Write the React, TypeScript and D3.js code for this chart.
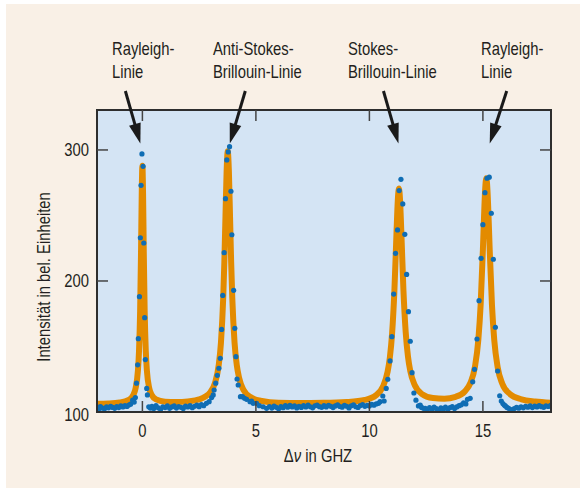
import React, { useRef, useEffect } from "react";
import * as d3 from "d3";

type Pt = [number, number];

const xTicks = [0, 5, 10, 15];
const yTicks = [100, 200, 300];

// orange fit curve: [Δν in GHz, intensity]
const fitCurve: Pt[] = [
  [-2, 106.3], [-1.5, 106.5], [-1, 107.2], [-0.6, 109.2], [-0.4, 113], [-0.3, 118.1],
  [-0.2, 131.1], [-0.15, 146.3], [-0.1, 177], [-0.06, 222.5], [-0.03, 265.6], [0, 288],
  [0.03, 265.6], [0.06, 222.5], [0.1, 177], [0.15, 146.3], [0.2, 131.2], [0.3, 118.3],
  [0.4, 113.3], [0.6, 109.7], [1, 107.9], [1.5, 107.6], [2, 108.1], [2.5, 109.6],
  [3, 115.3], [3.2, 122.3], [3.36, 135.5], [3.46, 152.9], [3.56, 187], [3.61, 214.5],
  [3.66, 249.4], [3.71, 283.6], [3.76, 299], [3.81, 283.6], [3.86, 249.4], [3.91, 214.5],
  [3.96, 187], [4.06, 152.9], [4.16, 135.5], [4.26, 126], [4.46, 116.7], [4.76, 111.4],
  [5.26, 108.4], [6, 107.1], [7, 106.9], [8, 107], [9, 107.6], [9.8, 109.2],
  [10.3, 112.9], [10.6, 119.6], [10.8, 130.6], [10.9, 141.4], [11, 159.9], [11.1, 192],
  [11.2, 239.7], [11.25, 261.2], [11.3, 270.5], [11.35, 261.8], [11.4, 240.3], [11.5, 192.7],
  [11.6, 160.7], [11.7, 142.2], [11.8, 131.4], [12, 120.4], [12.3, 113.9], [12.8, 110.7],
  [13.3, 110.2], [13.8, 111.6], [14.2, 115.7], [14.45, 122.2], [14.65, 134.6], [14.8, 155.4],
  [14.9, 181.8], [15, 224], [15.05, 249], [15.1, 270], [15.15, 278.5], [15.2, 269.5],
  [15.25, 248.5], [15.3, 223.5], [15.4, 181.3], [15.5, 155], [15.65, 134.2], [15.85, 121.8],
  [16.2, 113.6], [16.7, 109.7], [17.3, 108], [18, 107.1],
];

// measured points (blue)
const measuredLeft: Pt[] = [
  [-2, 101.5], [-1.96, 103.6], [-1.92, 102.3], [-1.85, 104.1], [-1.76, 103.0], [-1.67, 102.5],
  [-1.58, 103.9], [-1.49, 103.2], [-1.4, 104.4], [-1.31, 103.5], [-1.22, 102.8], [-1.13, 104.2],
  [-1.04, 103.4], [-0.95, 104.6], [-0.86, 103.8], [-0.77, 104.9], [-0.68, 104.2], [-0.6, 105.3],
  [-0.52, 106.0], [-0.43, 109.0], [-0.36, 107.6],
];
const measuredRayleigh1: Pt[] = [
  [-0.31, 111], [-0.26, 122], [-0.21, 136], [-0.18, 156], [-0.13, 188], [-0.09, 233],
  [-0.06, 273], [-0.02, 297], [0.03, 287.5], [0.06, 229], [0.1, 172], [0.13, 140],
  [0.19, 118], [0.22, 113], [0.28, 104],
];
const measuredMid1: Pt[] = [
  [0.35, 103.0], [0.42, 104.4], [0.5, 102.6], [0.6, 104.8], [0.7, 103.2], [0.8, 101.9],
  [0.9, 104.0], [1.0, 103.4], [1.1, 104.6], [1.2, 102.8], [1.3, 103.9], [1.4, 104.7],
  [1.5, 103.0], [1.6, 104.2], [1.7, 103.6], [1.8, 102.7], [1.9, 104.5], [2.0, 103.8],
  [2.1, 104.9], [2.2, 103.3], [2.3, 104.4], [2.4, 105.2], [2.5, 104.0], [2.6, 105.6],
  [2.7, 104.8], [2.82, 106.6], [2.94, 107.9], [3.05, 111],
];
const measuredAntiStokes: Pt[] = [
  [3.12, 113], [3.16, 116.8], [3.23, 122], [3.3, 128], [3.37, 133.4], [3.43, 141],
  [3.49, 163], [3.54, 189], [3.6, 221.6], [3.66, 262.8], [3.72, 292.4], [3.78, 298.5],
  [3.84, 302.5], [3.9, 268.5], [3.94, 235.3], [4.02, 192.9], [4.07, 163.9], [4.12, 142.2],
  [4.17, 125.2], [4.22, 120.6], [4.32, 111.7], [4.41, 111.7], [4.5, 110.5], [4.59, 109.7],
  [4.74, 107.9], [4.81, 108.4], [4.88, 106.6],
];
const measuredMid2: Pt[] = [
  [5.03, 106.6], [5.15, 104.8], [5.32, 104], [5.47, 102.8], [5.6, 104.2], [5.7, 103.0],
  [5.8, 104.5], [5.9, 103.6], [6.0, 102.4], [6.1, 104.1], [6.2, 103.3], [6.3, 104.8],
  [6.4, 103.7], [6.5, 105.0], [6.6, 103.9], [6.7, 104.6], [6.8, 103.1], [6.9, 104.3],
  [7.0, 103.5], [7.1, 104.9], [7.2, 103.8], [7.3, 105.2], [7.4, 104.0], [7.5, 103.2],
  [7.6, 104.7], [7.7, 105.3], [7.8, 104.1], [7.9, 103.6], [8.0, 104.8], [8.1, 103.9],
  [8.2, 105.1], [8.3, 104.3], [8.4, 103.4], [8.5, 104.6], [8.6, 105.5], [8.7, 104.2],
  [8.8, 103.7], [8.9, 105.0], [9.0, 104.4], [9.1, 103.1], [9.2, 104.7], [9.3, 105.4],
  [9.4, 104.0], [9.5, 103.5], [9.6, 104.9], [9.7, 105.6], [9.8, 104.3], [9.9, 105.1],
  [10.0, 104.6], [10.1, 105.8], [10.2, 105.2], [10.3, 106.2], [10.4, 106.6], [10.47, 107.9],
];
const measuredStokes: Pt[] = [
  [10.59, 112.2], [10.65, 108.4], [10.74, 118], [10.81, 125], [10.91, 139], [10.99, 157.5],
  [11.07, 190], [11.15, 221], [11.24, 239], [11.31, 269], [11.39, 277.6], [11.47, 258.8],
  [11.56, 235.6], [11.64, 205], [11.72, 176.6], [11.8, 154], [11.88, 130], [11.96, 114.5],
  [12.05, 109], [12.16, 104.6], [12.24, 105.3],
];
const measuredMid3: Pt[] = [
  [12.3, 103.5], [12.38, 102.8], [12.46, 102.8], [12.55, 101.6], [12.65, 103.4], [12.75, 102.1],
  [12.85, 103.8], [12.95, 102.5], [13.05, 101.4], [13.15, 103.1], [13.25, 102.3], [13.35, 103.7],
  [13.45, 102.0], [13.55, 103.3], [13.65, 104.2], [13.75, 102.6], [13.85, 103.9], [13.95, 104.8],
  [14.05, 105.5], [14.15, 107], [14.25, 106.2],
];
const measuredRayleigh2: Pt[] = [
  [14.32, 109.7], [14.44, 110.4], [14.55, 123], [14.63, 132.6], [14.74, 155.7], [14.83, 185],
  [14.92, 217.3], [15.0, 243], [15.09, 267.4], [15.18, 278.4], [15.28, 279.2], [15.37, 251.7],
  [15.46, 216.6], [15.55, 164.7], [15.65, 131.3], [15.74, 112.4], [15.81, 108.4], [15.88, 106.5],
  [15.94, 105.3], [15.99, 104.6],
];
const measuredRight: Pt[] = [
  [16.06, 103.5], [16.13, 102.8], [16.2, 102.0], [16.28, 101.5], [16.38, 102.6], [16.48, 103.6],
  [16.58, 102.9], [16.68, 104.0], [16.78, 103.2], [16.88, 104.3], [16.98, 103.7], [17.08, 104.6],
  [17.18, 103.4], [17.28, 104.5], [17.38, 103.9], [17.48, 104.8], [17.58, 104.1], [17.68, 103.6],
  [17.78, 104.7], [17.88, 104.2], [17.98, 105.0],
];

// annotation labels and where their arrows point (GHz, intensity)
const labelLines = [
  ["Rayleigh-", "Linie"],
  ["Anti-Stokes-", "Brillouin-Linie"],
  ["Stokes-", "Brillouin-Linie"],
  ["Rayleigh-", "Linie"],
];
const arrowTipX = [-0.09, 3.85, 11.28, 15.3];
const arrowTipY = [305, 305, 305, 305];

export default function App() {
  const svgRef = useRef<SVGSVGElement>(null);

  const width = 580;
  const height = 490;
  const left = 97, right = 551, top = 110, bottom = 412;
  const font = "'Liberation Sans', Arial, sans-serif";
  const ink = "#231f20";
  const squeeze = 0.8; // narrow the type like the condensed face of the original

  useEffect(() => {
    const svg = d3.select(svgRef.current);
    svg.selectAll("*").remove();

    const x = d3.scaleLinear().domain([-2, 18]).range([left, right]);
    const y = d3.scaleLinear().domain([100, 330.5]).range([bottom, top]);

    const label = (px: number, py: number, anchor: string, extra = "") =>
      svg.append("text")
        .attr("transform", `translate(${px},${py}) ${extra} scale(${squeeze},1)`)
        .attr("text-anchor", anchor)
        .style("font-family", font)
        .style("font-size", "18.5px")
        .attr("fill", ink);

    // backgrounds
    svg.append("rect").attr("x", 6).attr("y", 4).attr("width", width - 6).attr("height", 484)
      .attr("fill", "#f9f0e6");
    svg.append("rect").attr("x", left).attr("y", top).attr("width", right - left)
      .attr("height", bottom - top).attr("fill", "#d4e4f4");

    svg.append("clipPath").attr("id", "plotclip")
      .append("rect").attr("x", left).attr("y", top - 5)
      .attr("width", right - left).attr("height", bottom - top + 5);

    const g = svg.append("g").attr("clip-path", "url(#plotclip)");

    const line = d3.line<Pt>()
      .x(d => x(d[0]))
      .y(d => y(d[1]))
      .curve(d3.curveMonotoneX);

    g.append("path")
      .attr("d", line(fitCurve))
      .attr("fill", "none")
      .attr("stroke", "#e38b00")
      .attr("stroke-width", 6)
      .attr("stroke-linejoin", "round")
      .attr("stroke-linecap", "round");

    const measured = [
      ...measuredLeft, ...measuredRayleigh1, ...measuredMid1, ...measuredAntiStokes,
      ...measuredMid2, ...measuredStokes, ...measuredMid3, ...measuredRayleigh2, ...measuredRight,
    ];
    g.selectAll("circle.pt")
      .data(measured)
      .enter()
      .append("circle")
      .attr("class", "pt")
      .attr("cx", d => x(d[0]))
      .attr("cy", d => y(d[1]))
      .attr("r", 2.6)
      .attr("fill", "#0f6db4");

    // frame
    svg.append("rect").attr("x", left).attr("y", top).attr("width", right - left)
      .attr("height", bottom - top).attr("fill", "none")
      .attr("stroke", "#2e2e2e").attr("stroke-width", 2);

    // ticks, all pointing inwards
    const tickLen = 11;
    xTicks.forEach(t => {
      svg.append("line").attr("x1", x(t)).attr("x2", x(t)).attr("y1", bottom).attr("y2", bottom - tickLen)
        .attr("stroke", "#444").attr("stroke-width", 1.5);
      svg.append("line").attr("x1", x(t)).attr("x2", x(t)).attr("y1", top).attr("y2", top + tickLen)
        .attr("stroke", "#444").attr("stroke-width", 1.5);
      label(x(t), 437, "middle").text(t);
    });
    yTicks.forEach(t => {
      if (t !== 100) {
        svg.append("line").attr("x1", left).attr("x2", left + tickLen).attr("y1", y(t)).attr("y2", y(t))
          .attr("stroke", "#444").attr("stroke-width", 1.5);
        svg.append("line").attr("x1", right).attr("x2", right - tickLen).attr("y1", y(t)).attr("y2", y(t))
          .attr("stroke", "#444").attr("stroke-width", 1.5);
      }
      label(89, y(t) + (t === 100 ? 9 : 6), "end").text(t);
    });

    // axis titles
    const xt = label(318, 462, "middle");
    xt.append("tspan").text("Δ");
    xt.append("tspan").style("font-style", "italic").text("ν");
    xt.append("tspan").text(" in GHZ");

    label(50, 277, "middle", "rotate(-90)").text("Intensität in bel. Einheiten");

    // annotations
    const labelX = [112, 213, 348, 481];
    const tailDx = [-15, 15.5, -15, 17];
    labelLines.forEach((lines, i) => {
      lines.forEach((s, j) => {
        label(labelX[i], 55 + j * 23, "start").text(s);
      });
      const tx = x(arrowTipX[i]);
      const ty = y(arrowTipY[i]);
      const sx = tx + tailDx[i];
      const sy = 91;
      const len = Math.hypot(tx - sx, ty - sy);
      const ux = (tx - sx) / len, uy = (ty - sy) / len;
      const headLen = 20, headHalf = 6;
      const bx = tx - ux * headLen, by = ty - uy * headLen;
      svg.append("line").attr("x1", sx).attr("y1", sy).attr("x2", bx + ux * 2).attr("y2", by + uy * 2)
        .attr("stroke", "#1a1a1a").attr("stroke-width", 3);
      svg.append("path")
        .attr("d", `M${tx},${ty} L${bx - uy * headHalf},${by + ux * headHalf} L${bx + uy * headHalf},${by - ux * headHalf} Z`)
        .attr("fill", "#1a1a1a");
    });
  }, []);

  return (
    <div style={{ position: "absolute", left: 0, top: 0 }}>
      <svg ref={svgRef} width={width} height={height} style={{ display: "block" }} />
    </div>
  );
}
